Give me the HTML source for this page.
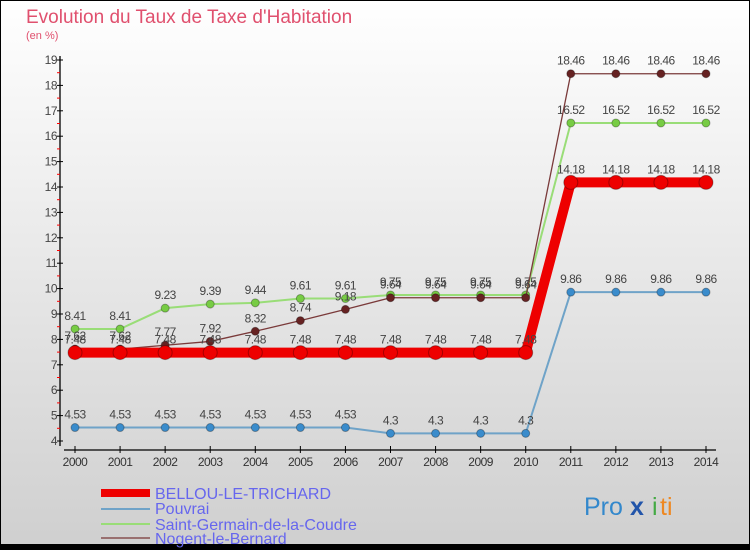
<!DOCTYPE html>
<html><head><meta charset="utf-8"><style>
body{margin:0;}
#c{width:750px;height:550px;position:relative;font-family:"Liberation Sans","DejaVu Sans",sans-serif;}
</style></head><body>
<div id="c">
<svg id="s" width="750" height="550" xmlns="http://www.w3.org/2000/svg">
<defs><linearGradient id="bg" x1="0" y1="0" x2="0" y2="1"><stop offset="0" stop-color="#ffffff"/><stop offset="1" stop-color="#cfcfcf"/></linearGradient></defs>
<rect x="0.5" y="0.5" width="749" height="549" fill="url(#bg)" stroke="#000"/>
<rect x="0" y="544" width="750" height="6" fill="#000"/>
<text x="26" y="23" font-size="19" fill="#e0506e">Evolution du Taux de Taxe d'Habitation</text>
<text x="26" y="39" font-size="11" fill="#e0506e">(en %)</text>
<g id="axes"></g><g id="series"></g>
<g>
<rect x="101" y="489" width="49" height="8" fill="#ee0000"/>
<text x="155" y="499" font-size="16" fill="#6666ee">BELLOU-LE-TRICHARD</text>
<rect x="101" y="508" width="49" height="2" fill="#6fa3c8"/>
<text x="155" y="514" font-size="16" fill="#6666ee">Pouvrai</text>
<rect x="101" y="523" width="49" height="2" fill="#99dd77"/>
<text x="155" y="530" font-size="16" fill="#6666ee">Saint-Germain-de-la-Coudre</text>
<rect x="101" y="537" width="49" height="2" fill="#997070"/>
<text x="155" y="544" font-size="16" fill="#6666ee">Nogent-le-Bernard</text>
</g>
<g font-size="25">
<text x="584" y="515" fill="#3388cc">Pro</text><text x="630" y="515" fill="#2255aa" font-weight="bold">x</text><text x="652" y="515" fill="#44aa44">i</text><text x="660" y="515" fill="#ee8822">ti</text>
</g>
</svg></div>
<script>
const years=[2000,2001,2002,2003,2004,2005,2006,2007,2008,2009,2010,2011,2012,2013,2014];
const yTicks=[4,5,6,7,8,9,10,11,12,13,14,15,16,17,18,19];
const bellou=[7.48,7.48,7.48,7.48,7.48,7.48,7.48,7.48,7.48,7.48,7.48,14.18,14.18,14.18,14.18];
const pouvrai=[4.53,4.53,4.53,4.53,4.53,4.53,4.53,4.3,4.3,4.3,4.3,9.86,9.86,9.86,9.86];
const stgermain=[8.41,8.41,9.23,9.39,9.44,9.61,9.61,9.75,9.75,9.75,9.75,16.52,16.52,16.52,16.52];
const nogent=[7.62,7.62,7.77,7.92,8.32,8.74,9.18,9.64,9.64,9.64,9.64,18.46,18.46,18.46,18.46];
const NS='http://www.w3.org/2000/svg';
const X=i=>75+i*(706-75)/(years.length-1);
const Y=v=>441-(v-4)*(441-60)/15;
function mk(t,a,p){const e=document.createElementNS(NS,t);for(const k in a)e.setAttribute(k,a[k]);p.appendChild(e);return e;}
const ax=document.getElementById('axes');
let e=mk('line',{x1:60,y1:56,x2:60,y2:446,stroke:'#000','stroke-width':1.3},ax);

e=mk('line',{x1:64,y1:450,x2:716,y2:450,stroke:'#000','stroke-width':1.3},ax);

yTicks.forEach(v=>{
 mk('line',{x1:57,y1:Y(v),x2:63,y2:Y(v),stroke:'#000'},ax);
 if(v<19)mk('line',{x1:57,y1:Y(v+0.5),x2:60,y2:Y(v+0.5),stroke:'#f00'},ax);
 const t=mk('text',{x:57,y:Y(v)+4,'font-size':12,fill:'#444','text-anchor':'end','letter-spacing':'-0.5'},ax);
 t.textContent=v;
 
});
years.forEach((y,i)=>{
 mk('line',{x1:X(i),y1:446,x2:X(i),y2:453,stroke:'#000'},ax);
 const t=mk('text',{x:X(i),y:466,'font-size':12,fill:'#333','text-anchor':'middle','letter-spacing':'-0.5'},ax);
 t.textContent=y;
 
});
const sg=document.getElementById('series');
function draw(vals,name,col,w,r,dot){
 const g=mk('g',{},sg);
 
 const l=mk('polyline',{points:vals.map((v,i)=>X(i)+','+Y(v)).join(' '),fill:'none',stroke:col,'stroke-width':w},g);
 
 vals.forEach((v,i)=>{
  const c=mk('circle',{cx:X(i),cy:Y(v),r:r,fill:dot,stroke:'rgba(0,0,0,0.3)'},g);
  
  const t=mk('text',{x:X(i),y:Y(v)-9,'font-size':12,fill:'#444','text-anchor':'middle','letter-spacing':'-0.5'},g);
  t.textContent=v;
  
 });
}
draw(pouvrai,'pouvrai','#6fa3c8',2,4,'#3a8ccc');
draw(stgermain,'saint-germain','#99dd77',2,4,'#77cc44');
draw(nogent,'nogent','#7a3a3a',1.3,4,'#662222');
draw(bellou,'bellou','#ee0000',10,7,'#ee0000');
</script>
</body></html>
